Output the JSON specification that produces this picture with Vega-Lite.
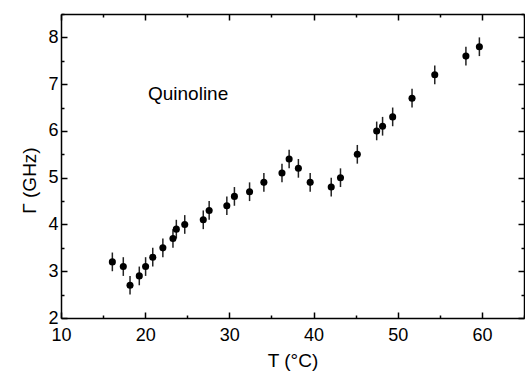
{
  "$schema": "https://vega.github.io/schema/vega-lite/v6.json",
  "width": 463,
  "height": 304,
  "autosize": "none",
  "padding": {"left": 61, "top": 14, "right": 1, "bottom": 61},
  "background": "white",
  "config": {
    "view": {"stroke": null},
    "font": "Liberation Sans",
    "axis": {
      "domainColor": "black", "domainWidth": 1.5, "tickColor": "black", "tickWidth": 1.5,
      "labelColor": "black", "titleColor": "black", "grid": false,
      "labelFont": "Liberation Sans", "titleFont": "Liberation Sans",
      "labelFontSize": 18, "titleFontSize": 19, "titleFontWeight": "normal",
      "labelFlush": false, "labelOverlap": false
    }
  },
  "data": {
    "values": [
      {"T": 16.1, "G": 3.2, "err": 0.2},
      {"T": 17.4, "G": 3.1, "err": 0.2},
      {"T": 18.2, "G": 2.7, "err": 0.2},
      {"T": 19.3, "G": 2.9, "err": 0.2},
      {"T": 20.05, "G": 3.1, "err": 0.2},
      {"T": 20.9, "G": 3.3, "err": 0.2},
      {"T": 22.1, "G": 3.5, "err": 0.2},
      {"T": 23.3, "G": 3.7, "err": 0.2},
      {"T": 23.7, "G": 3.9, "err": 0.2},
      {"T": 24.7, "G": 4.0, "err": 0.2},
      {"T": 26.9, "G": 4.1, "err": 0.2},
      {"T": 27.6, "G": 4.3, "err": 0.2},
      {"T": 29.7, "G": 4.4, "err": 0.2},
      {"T": 30.6, "G": 4.6, "err": 0.2},
      {"T": 32.4, "G": 4.7, "err": 0.2},
      {"T": 34.1, "G": 4.9, "err": 0.2},
      {"T": 36.25, "G": 5.1, "err": 0.2},
      {"T": 37.1, "G": 5.4, "err": 0.2},
      {"T": 38.2, "G": 5.2, "err": 0.2},
      {"T": 39.6, "G": 4.9, "err": 0.2},
      {"T": 42.1, "G": 4.8, "err": 0.2},
      {"T": 43.2, "G": 5.0, "err": 0.2},
      {"T": 45.2, "G": 5.5, "err": 0.2},
      {"T": 47.5, "G": 6.0, "err": 0.2},
      {"T": 48.2, "G": 6.1, "err": 0.2},
      {"T": 49.4, "G": 6.3, "err": 0.2},
      {"T": 51.7, "G": 6.7, "err": 0.2},
      {"T": 54.4, "G": 7.2, "err": 0.2},
      {"T": 58.1, "G": 7.6, "err": 0.2},
      {"T": 59.7, "G": 7.8, "err": 0.2}
    ]
  },
  "resolve": {"axis": {"x": "independent", "y": "independent"}},
  "layer": [
    {
      "mark": {"type": "errorbar", "color": "#222", "thickness": 1.5},
      "encoding": {
        "x": {"field": "T", "type": "quantitative", "scale": {"domain": [10, 65], "nice": false, "zero": false}, "axis": null},
        "y": {"field": "G", "type": "quantitative", "scale": {"domain": [2, 8.5], "nice": false, "zero": false}, "axis": null},
        "yError": {"field": "err"}
      }
    },
    {
      "mark": {"type": "circle", "color": "black", "opacity": 1, "size": 50},
      "encoding": {
        "x": {"field": "T", "type": "quantitative",
          "scale": {"domain": [10, 65], "nice": false, "zero": false},
          "axis": {
            "orient": "bottom", "title": "T (°C)",
            "values": [10, 15, 20, 25, 30, 35, 40, 45, 50, 55, 60, 65],
            "labelExpr": "datum.value % 10 === 0 ? format(datum.value, 'd') : ''",
            "tickSize": {"condition": {"test": "datum.value % 10 === 0", "value": -6}, "value": -3},
            "labelPadding": 14, "titlePadding": 4
          }
        },
        "y": {"field": "G", "type": "quantitative",
          "scale": {"domain": [2, 8.5], "nice": false, "zero": false},
          "axis": {
            "orient": "left", "title": "Γ  (GHz)",
            "values": [2, 2.5, 3, 3.5, 4, 4.5, 5, 5.5, 6, 6.5, 7, 7.5, 8, 8.5],
            "labelExpr": "datum.value % 1 === 0 ? format(datum.value, 'd') : ''",
            "tickSize": {"condition": {"test": "datum.value % 1 === 0", "value": -6}, "value": -3},
            "labelPadding": 9, "titlePadding": 8, "titleY": 166
          }
        }
      }
    },
    {
      "mark": {"type": "circle", "opacity": 0},
      "encoding": {
        "x": {"field": "T", "type": "quantitative",
          "scale": {"domain": [10, 65], "nice": false, "zero": false},
          "axis": {
            "orient": "top", "title": null, "labels": false,
            "values": [10, 15, 20, 25, 30, 35, 40, 45, 50, 55, 60, 65],
            "tickSize": {"condition": {"test": "datum.value % 10 === 0", "value": -6}, "value": -3}
          }
        },
        "y": {"field": "G", "type": "quantitative",
          "scale": {"domain": [2, 8.5], "nice": false, "zero": false},
          "axis": {
            "orient": "right", "title": null, "labels": false,
            "values": [2, 2.5, 3, 3.5, 4, 4.5, 5, 5.5, 6, 6.5, 7, 7.5, 8, 8.5],
            "tickSize": {"condition": {"test": "datum.value % 1 === 0", "value": -6}, "value": -3}
          }
        }
      }
    },
    {
      "data": {"values": [{"T": 25.1, "G": 6.67, "label": "Quinoline"}]},
      "mark": {"type": "text", "fontSize": 19, "align": "center", "baseline": "alphabetic", "color": "black", "font": "Liberation Sans"},
      "encoding": {
        "x": {"field": "T", "type": "quantitative", "scale": {"domain": [10, 65], "nice": false, "zero": false}, "axis": null},
        "y": {"field": "G", "type": "quantitative", "scale": {"domain": [2, 8.5], "nice": false, "zero": false}, "axis": null},
        "text": {"field": "label"}
      }
    }
  ]
}
